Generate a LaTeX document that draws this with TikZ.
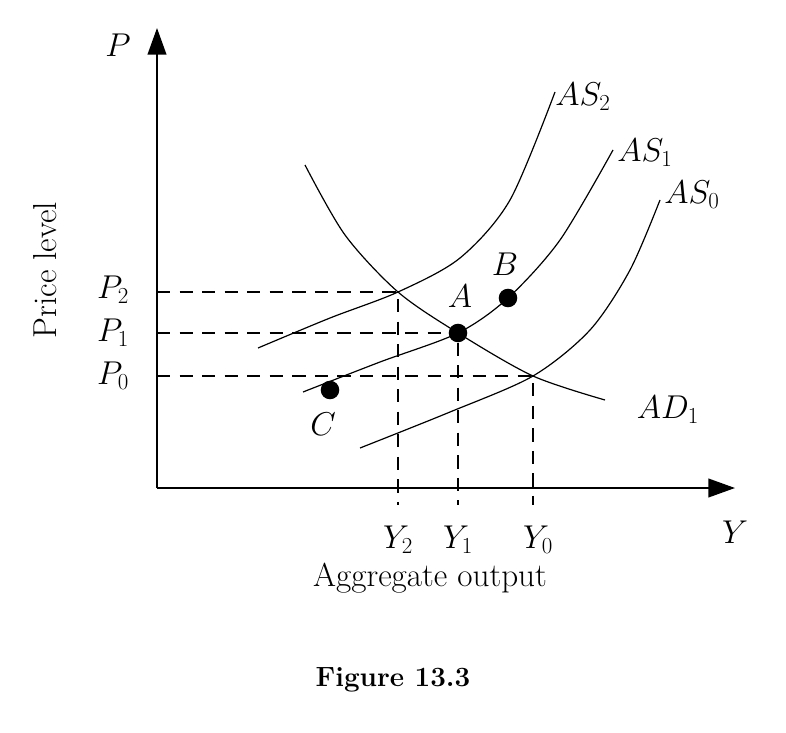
\documentclass[tikz,border=0pt]{standalone}
\usepackage{tikz}
\usetikzlibrary{arrows.meta}
\tikzstyle{axis} = [line width=1.5pt,-{Triangle[length=20pt,width=14pt]}]
\tikzstyle{curve} = [line width=0.9pt]
\tikzstyle{guide} = [line width=0.8pt,dash pattern=on 10pt off 7pt]
\tikzstyle{dot} = [circle, fill=black, inner sep=0pt, minimum size=14pt]
\tikzstyle{lbl} = [font=\fontsize{25}{27}\selectfont]

\begin{document}
\begin{tikzpicture}[x=0.0265cm,y=-0.0265cm]
	\useasboundingbox (0,0) rectangle (786,732);
	\coordinate (O) at (157,488);
	\coordinate (ytop) at (157,28);
	\coordinate (xend) at (735,488);
	\draw [axis] (O) -- (ytop);
	\draw [axis] (O) -- (xend);
	\node (P) [lbl] at (118,45) {$P$};
	\node (Y) [lbl] at (735,532) {$Y$};
	\node (plevel) [lbl, rotate=90] at (45,270) {Price level};
	\node (aggout) [lbl] at (430,578) {Aggregate output};
	\node (fig) [font=\fontsize{21}{23}\selectfont\bfseries] at (393,680) {Figure 13.3};

	% curves
	\draw [curve] plot[smooth] coordinates {(258,348) (330,318) (398,292) (460,258) (510,200) (555,92)};
	\draw [curve] plot[smooth] coordinates {(303,392) (380,362) (458,333) (508,298) (560,240) (613,150)};
	\draw [curve] plot[smooth] coordinates {(360,448) (450,412) (533,376) (590,330) (630,270) (660,200)};
	\draw [curve] plot[smooth] coordinates {(305,165) (345,235) (398,292) (458,333) (533,376) (605,400)};

	\coordinate (E2) at (398,292);
	\coordinate (E0) at (533,376);
	\node (A) [dot] at (458,333) {};
	\node (B) [dot] at (508,298) {};
	\node (C) [dot] at (330,390) {};
	\node [lbl] at (460,296) {$A$};
	\node [lbl] at (505,264) {$B$};
	\node [lbl] at (323,424) {$C$};

	% guides
	\draw [guide] (O |- E2) -- (E2) -- (E2 |- 0,505);
	\draw [guide] (O |- A) -- (A) -- (A |- 0,505);
	\draw [guide] (O |- E0) -- (E0) -- (E0 |- 0,505);

	\node [lbl] at (113,290) {$P_2$};
	\node [lbl] at (113,333) {$P_1$};
	\node [lbl] at (113,376) {$P_0$};
	\node [lbl] at (398,540) {$Y_2$};
	\node [lbl] at (458,540) {$Y_1$};
	\node [lbl] at (538,540) {$Y_0$};

	\node [lbl] at (583,97) {$AS_2$};
	\node [lbl] at (645,153) {$AS_1$};
	\node [lbl] at (692,195) {$AS_0$};
	\node [lbl] at (668,410) {$AD_1$};
\end{tikzpicture}
\end{document}
